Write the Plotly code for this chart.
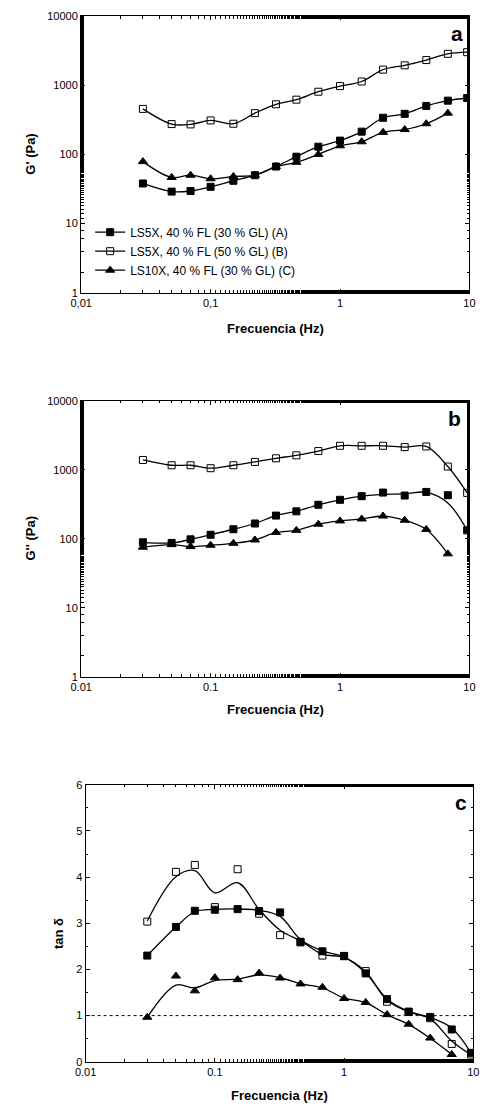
import plotly.graph_objects as go

# ---------------- data ----------------
freq = [0.03, 0.05, 0.07, 0.1, 0.15, 0.22, 0.32, 0.46, 0.68, 1.0, 1.47, 2.15, 3.16, 4.64, 6.81, 9.6]
freq_c = freq[:15]

series_names = ["LS5X, 40 % FL (30 % GL) (A)",
                "LS5X, 40 % FL (50 % GL) (B)",
                "LS10X, 40 % FL (30 % GL) (C)"]

# Panel a: G' (Pa)
Gp_A = [38, 29, 29.6, 34, 41.6, 50, 66.7, 92.6, 129, 158, 213, 338, 385, 501, 597, 652]
Gp_B = [454, 274, 271, 309, 277, 394, 529, 617, 803, 968, 1128, 1676, 1931, 2303, 2833, 2993]
Gp_C = [78.6, 46.4, 50, 44.4, 48, 50, 66.7, 76.9, 100, 133, 152, 208, 228, 277, 394]

# Panel b: G'' (Pa)
Gpp_A = [88.6, 86.7, 97.8, 114, 137, 166, 216, 249, 310, 366, 413, 466, 422, 476, 427, 132]
Gpp_B = [1383, 1159, 1159, 1050, 1159, 1295, 1462, 1614, 1862, 2219, 2219, 2219, 2123, 2170, 1110, 461]
Gpp_C = [75.2, 82, 76.8, 80.3, 85.7, 95.7, 123, 132, 162, 181, 193, 213, 185, 136, 60.3]
# fitted curve for A in panel b
Gpp_A_fit = [88.6, 86.7, 97.8, 114, 137, 166, 216, 249, 310, 366, 413, 440, 445, 470, 330, 132]

# Panel c: tan delta (measured points)
tan_A = [2.3, 2.921, 3.271, 3.293, 3.307, 3.264, 3.236, 2.6, 2.393, 2.293, 1.914, 1.357, 1.079, 0.971, 0.7, 0.193]
tan_B = [3.036, 4.114, 4.264, 3.35, 4.171, 3.207, 2.743, 2.586, 2.3, 2.286, 1.964, 1.3, 1.086, 0.943, 0.386, 0.157]
tan_C = [0.964, 1.857, 1.536, 1.821, 1.779, 1.921, 1.814, 1.686, 1.614, 1.371, 1.286, 1.021, 0.814, 0.514, 0.157]
# Panel c: fitted curves
tan_A_fit = [2.3, 2.92, 3.25, 3.3, 3.31, 3.28, 3.15, 2.65, 2.4, 2.27, 1.92, 1.36, 1.09, 0.96, 0.73, 0.19]
tan_B_fit = [3.05, 4.01, 4.14, 3.66, 3.88, 3.3, 2.85, 2.62, 2.33, 2.26, 1.95, 1.33, 1.08, 0.93, 0.45, 0.15]
tan_C_fit = [0.96, 1.66, 1.6, 1.76, 1.79, 1.88, 1.82, 1.69, 1.6, 1.38, 1.28, 1.02, 0.81, 0.51, 0.16]

x_ticks = [0.01, 0.1, 1, 10]
x_text_comma = ["0,01", "0,1", "1", "10"]
x_text_dot = ["0.01", "0.1", "1", "10"]
y_log_ticks = [1, 10, 100, 1000, 10000]
y_log_text = ["1", "10", "100", "1000", "10000"]

# ---------------- styling ----------------
FONT = "Liberation Sans, Arial, sans-serif"
markers = [
    dict(symbol="square", size=7, color="black", line=dict(color="black", width=1)),
    dict(symbol="square-open", size=7, color="black", line=dict(color="black", width=1)),
    dict(symbol="triangle-up", size=8, color="black", line=dict(color="black", width=1)),
]
LINE = dict(color="black", width=1.3, shape="spline", smoothing=1.0)

fig = go.Figure()

# panel a: lines + markers through data (also provides legend)
for i, (y, x) in enumerate([(Gp_A, freq), (Gp_B, freq), (Gp_C, freq_c)]):
    fig.add_trace(go.Scatter(x=x, y=y, mode="lines+markers", name=series_names[i],
                             line=LINE, marker=markers[i], xaxis="x", yaxis="y",
                             legendgroup=str(i), showlegend=True))

# panel b
for i, (yfit, y, x) in enumerate([(Gpp_A_fit, Gpp_A, freq), (Gpp_B, Gpp_B, freq), (Gpp_C, Gpp_C, freq_c)]):
    fig.add_trace(go.Scatter(x=x, y=yfit, mode="lines", line=LINE, xaxis="x2", yaxis="y2",
                             legendgroup=str(i), showlegend=False, hoverinfo="skip"))
    fig.add_trace(go.Scatter(x=x, y=y, mode="markers", marker=markers[i], name=series_names[i],
                             xaxis="x2", yaxis="y2", legendgroup=str(i), showlegend=False))

# panel c
for i, (yfit, y, x) in enumerate([(tan_A_fit, tan_A, freq), (tan_B_fit, tan_B, freq), (tan_C_fit, tan_C, freq_c)]):
    fig.add_trace(go.Scatter(x=x, y=yfit, mode="lines", line=LINE, xaxis="x3", yaxis="y3",
                             legendgroup=str(i), showlegend=False, hoverinfo="skip"))
    fig.add_trace(go.Scatter(x=x, y=y, mode="markers", marker=markers[i], name=series_names[i],
                             xaxis="x3", yaxis="y3", legendgroup=str(i), showlegend=False))

W, H = 488, 1110

def px_x(v):
    return v / W

def px_y(v):
    return 1 - v / H

common_axis = dict(showline=True, linecolor="black", linewidth=1.3, mirror="ticks",
                   ticks="inside", ticklen=4, tickwidth=1, tickcolor="black",
                   showgrid=False, zeroline=False,
                   tickfont=dict(family=FONT, size=11, color="black"))
minor_log = dict(ticks="inside", ticklen=2.5, tickwidth=1, tickcolor="black", showgrid=False)

xa_dom = [px_x(72.7), px_x(475)]
xc_dom = [px_x(77.3), px_x(479)]

fig.update_layout(
    width=W, height=H,
    margin=dict(l=0, r=0, t=0, b=0),
    paper_bgcolor="white", plot_bgcolor="white",
    font=dict(family=FONT, color="black"),
    xaxis=dict(type="log", range=[-2, 1], domain=xa_dom, anchor="y",
               tickvals=x_ticks, ticktext=x_text_comma, minor=minor_log, **common_axis),
    yaxis=dict(type="log", range=[0, 4], domain=[px_y(290), px_y(10)], anchor="x",
               tickvals=y_log_ticks, ticktext=y_log_text, minor=minor_log, **common_axis),
    xaxis2=dict(type="log", range=[-2, 1], domain=xa_dom, anchor="y2",
                tickvals=x_ticks, ticktext=x_text_dot, minor=minor_log, **common_axis),
    yaxis2=dict(type="log", range=[0, 4], domain=[px_y(678), px_y(399)], anchor="x2",
                tickvals=y_log_ticks, ticktext=y_log_text, minor=minor_log, **common_axis),
    xaxis3=dict(type="log", range=[-2, 1], domain=xc_dom, anchor="y3",
                tickvals=x_ticks, ticktext=x_text_dot, minor=minor_log, **common_axis),
    yaxis3=dict(range=[0, 6], domain=[px_y(1067.3), px_y(787.3)], anchor="x3",
                dtick=1, tick0=0, minor=dict(dtick=0.5, ticks="inside", ticklen=2.5,
                                             tickwidth=1, tickcolor="black", showgrid=False),
                **common_axis),
    showlegend=True,
    legend=dict(x=px_x(82), y=px_y(214), xanchor="left", yanchor="top",
                bgcolor="rgba(0,0,0,0)", borderwidth=0, tracegroupgap=0,
                font=dict(family=FONT, size=12, color="black"), itemwidth=30),
)

# dotted reference line at tan delta = 1
fig.add_shape(type="line", xref="x3 domain", yref="y3", x0=0, x1=1, y0=1, y1=1,
              line=dict(color="black", width=1, dash="dot"))

title_font = dict(family=FONT, size=13, color="black")
letter_font = dict(family=FONT, size=21, color="black")
ann = [
    dict(text="<b>G' (Pa)</b>", x=px_x(20), y=px_y(150), textangle=-90),
    dict(text="<b>Frecuencia (Hz)</b>", x=px_x(274), y=px_y(326)),
    dict(text="<b>G'' (Pa)</b>", x=px_x(20), y=px_y(538), textangle=-90),
    dict(text="<b>Frecuencia (Hz)</b>", x=px_x(274), y=px_y(711)),
    dict(text="<b>tan δ</b>", x=px_x(50), y=px_y(938), textangle=-90),
    dict(text="<b>Frecuencia (Hz)</b>", x=px_x(278), y=px_y(1101)),
]
for a in ann:
    fig.add_annotation(xref="paper", yref="paper", showarrow=False, font=title_font,
                       xanchor="center", yanchor="middle", **a)
for t, x, y in [("a", 462, 28), ("b", 460, 417), ("c", 466, 805)]:
    fig.add_annotation(text=f"<b>{t}</b>", xref="paper", yref="paper", x=px_x(x), y=px_y(y),
                       showarrow=False, font=letter_font, xanchor="center", yanchor="middle")

# remove the browser's default body margin so the 488x1110 figure fills the window exactly
fig.write_html("out.html",
               config={"displayModeBar": False},
               post_script="document.body.style.margin='0';document.body.style.overflow='hidden';")
